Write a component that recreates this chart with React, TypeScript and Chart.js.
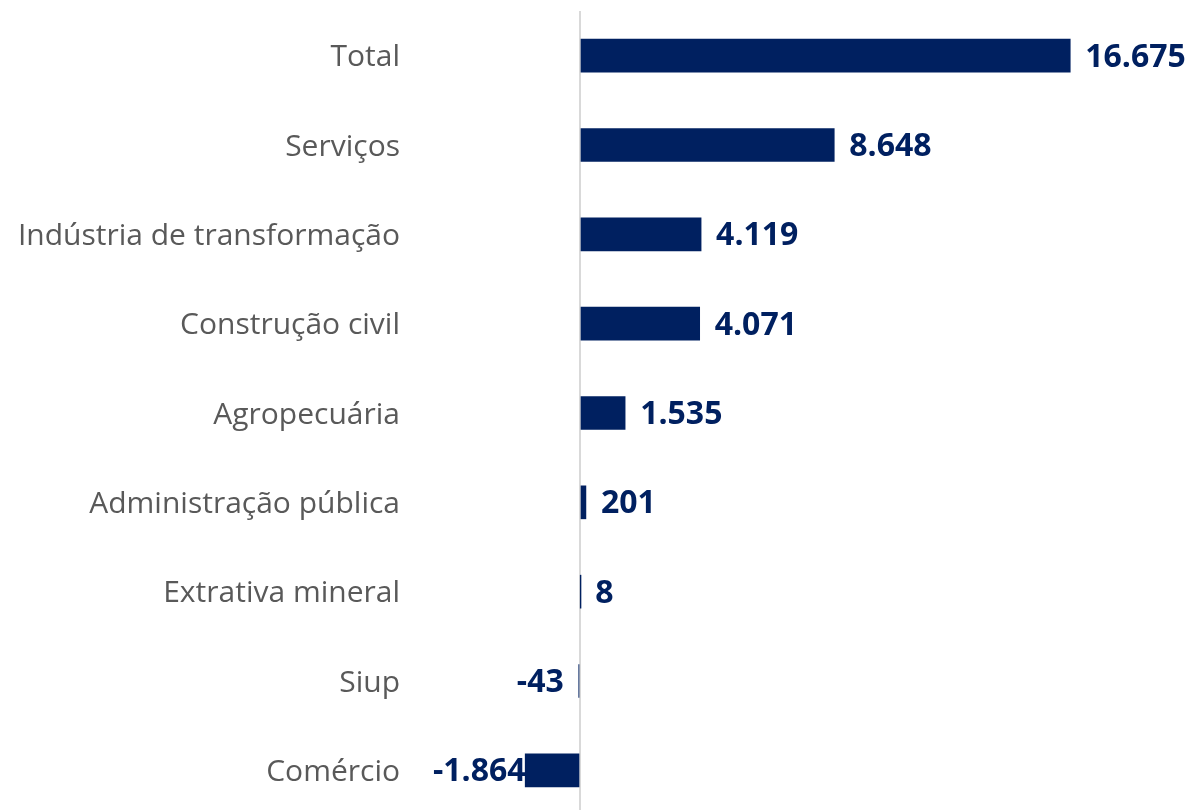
import { useEffect, useRef } from "react";
import { Chart, registerables } from "chart.js";
Chart.register(...registerables);

const categories = [
  "Total",
  "Serviços",
  "Indústria de transformação",
  "Construção civil",
  "Agropecuária",
  "Administração pública",
  "Extrativa mineral",
  "Siup",
  "Comércio",
];
const values = [16675, 8648, 4119, 4071, 1535, 201, 8, -43, -1864];
const axisMin = -5000;
const axisMax = 20000;

const BAR_COLOR = "#002060";
const LABEL_COLOR = "#595959";
const FONT = "'Open Sans', 'Noto Sans', sans-serif";

const fmt = (v: number) => {
  const s = Math.abs(v).toString().replace(/\B(?=(\d{3})+(?!\d))/g, ".");
  return (v < 0 ? "-" : "") + s;
};

export default function App() {
  const ref = useRef<HTMLCanvasElement>(null);
  useEffect(() => {
    document.body.style.margin = "0";
    document.documentElement.style.overflow = "hidden";
    document.body.style.overflow = "hidden";
    const labelsPlugin = {
      id: "labelsPlugin",
      afterDatasetsDraw(chart: any) {
        const ctx = chart.ctx;
        const meta = chart.getDatasetMeta(0);
        const area = chart.chartArea;
        const yScale = chart.scales.y;
        ctx.save();
        ctx.textBaseline = "middle";
        // category labels
        ctx.font = `30px ${FONT}`;
        ctx.fillStyle = LABEL_COLOR;
        ctx.textAlign = "right";
        categories.forEach((c, i) => {
          ctx.fillText(c, area.left - 33, yScale.getPixelForTick(i) + 2);
        });
        // value labels
        ctx.font = `bold 32px ${FONT}`;
        ctx.fillStyle = BAR_COLOR;
        ctx.textAlign = "left";
        meta.data.forEach((bar: any, i: number) => {
          const v = values[i];
          const text = fmt(v);
          const w = ctx.measureText(text).width;
          let x: number;
          if (v >= 0) {
            x = bar.x + 15;
          } else {
            x = bar.x - 15 - w;
            if (x < area.left) x = area.left;
          }
          ctx.fillText(text, x, bar.y + 2);
        });
        ctx.restore();
      },
    };
    const chart = new Chart(ref.current as HTMLCanvasElement, {
      type: "bar",
      data: {
        labels: categories,
        datasets: [
          {
            data: values,
            backgroundColor: BAR_COLOR,
            barThickness: 33,
            clip: false as any,
          },
        ],
      },
      options: {
        indexAxis: "y",
        responsive: false,
        animation: false,
        layout: { autoPadding: false, padding: { top: 11, right: 23, left: 0, bottom: 0 } },
        plugins: { legend: { display: false }, tooltip: { enabled: false } },
        scales: {
          x: {
            min: axisMin,
            max: axisMax,
            ticks: { display: false, stepSize: 5000 },
            border: { display: false },
            grid: {
              drawTicks: false,
              lineWidth: 2,
              color: (c: any) => (c.tick && c.tick.value === 0 ? "#d9d9d9" : "rgba(0,0,0,0)"),
            },
            afterFit: (s: any) => {
              s.height = 0;
              s.paddingLeft = 0;
              s.paddingRight = 0;
            },
          },
          y: {
            ticks: { display: false },
            grid: { display: false, drawTicks: false },
            border: { display: false },
            afterFit: (s: any) => {
              s.width = 433;
              s.paddingTop = 0;
              s.paddingBottom = 0;
            },
          },
        },
      },
      plugins: [labelsPlugin],
    } as any);
    return () => chart.destroy();
  }, []);
  return <canvas ref={ref} width={1191} height={815} style={{ display: "block" }} />;
}
